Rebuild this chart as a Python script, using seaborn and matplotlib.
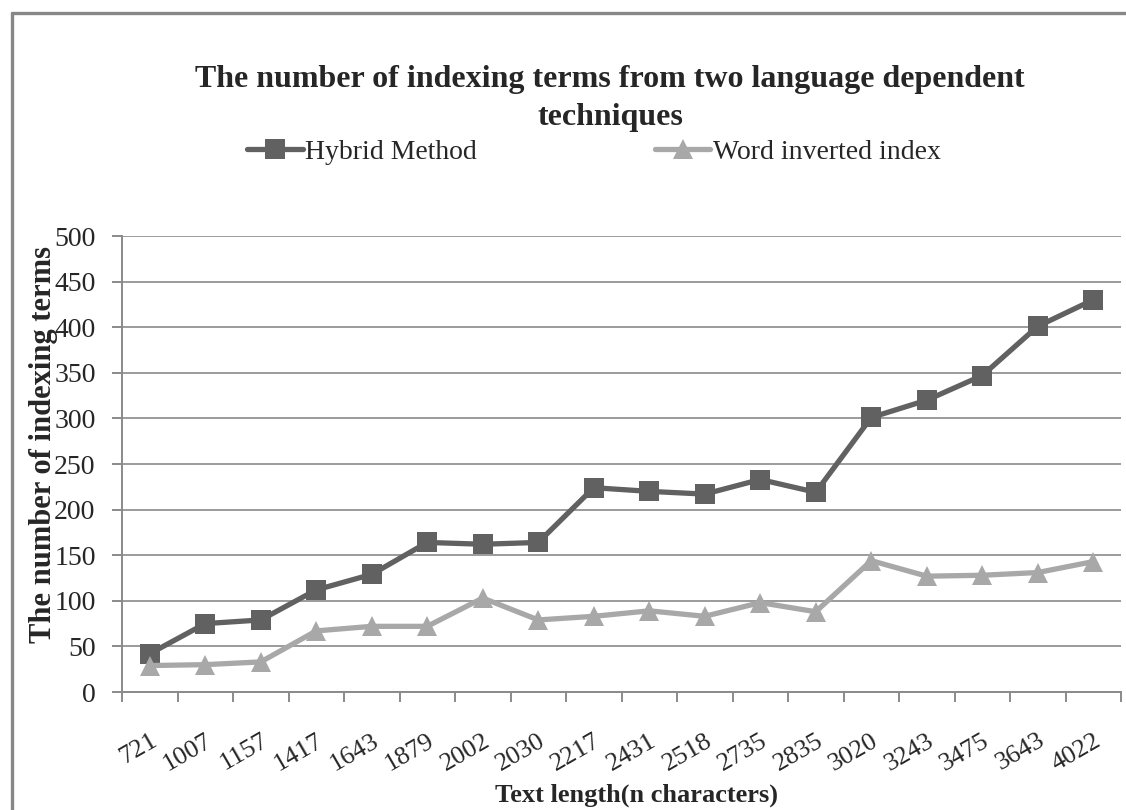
import matplotlib
matplotlib.use("Agg")
import matplotlib.pyplot as plt
from matplotlib.lines import Line2D
from matplotlib.ticker import FixedLocator, NullFormatter
import seaborn as sns
import pandas as pd

# Text lengths (n characters) used as categories
text_lengths = ["721", "1007", "1157", "1417", "1643", "1879", "2002", "2030", "2217",
                "2431", "2518", "2735", "2835", "3020", "3243", "3475", "3643", "4022"]
# Number of indexing terms per technique
hybrid_method = [42, 75, 79, 112, 129, 164, 162, 164, 224,
                 220, 217, 233, 219, 301, 320, 347, 401, 430]
word_inverted_index = [29, 30, 33, 67, 72, 72, 103, 79, 83,
                       89, 83, 98, 88, 144, 127, 128, 131, 143]
series_names = ["Hybrid Method", "Word inverted index"]
y_ticks = [0, 50, 100, 150, 200, 250, 300, 350, 400, 450, 500]

df = pd.DataFrame({
    "length": text_lengths * 2,
    "terms": hybrid_method + word_inverted_index,
    "method": [series_names[0]] * len(text_lengths) + [series_names[1]] * len(text_lengths),
})

sns.set_theme(style="white")
plt.rcParams["font.family"] = ["Liberation Serif", "DejaVu Serif"]

fig = plt.figure(figsize=(11.26, 8.10), dpi=100)
fig.patch.set_facecolor("white")
ax = fig.add_axes([122 / 1126, 1 - 692 / 810, (1121 - 122) / 1126, (692 - 236) / 810])

palette = {series_names[0]: "#616161", series_names[1]: "#a8a8a8"}
markers = {series_names[0]: "s", series_names[1]: "^"}
sns.lineplot(data=df, x="length", y="terms", hue="method", style="method",
             palette=palette, markers=markers, dashes=False, sort=False,
             linewidth=3.8, markersize=14, markeredgewidth=0, ax=ax, legend=False)

grid_color = "#8a8a8a"
ax.set_xlim(-0.5, len(text_lengths) - 0.5)
ax.set_ylim(0, 500)
ax.set_yticks(y_ticks)
ax.yaxis.grid(True, color=grid_color, linewidth=1.2)
ax.set_axisbelow(True)
for side in ["top", "right"]:
    ax.spines[side].set_visible(False)
for side in ["left", "bottom"]:
    ax.spines[side].set_color(grid_color)
    ax.spines[side].set_linewidth(1.4)

# category labels at centres, tick marks at category boundaries
ax.set_xticks(range(len(text_lengths)))
ax.set_xticklabels(text_lengths, rotation=30, ha="right", rotation_mode="anchor",
                   fontsize=19)
ax.tick_params(axis="x", which="major", length=0, pad=27)
ax.xaxis.set_minor_locator(FixedLocator([i - 0.5 for i in range(len(text_lengths) + 1)]))
ax.xaxis.set_minor_formatter(NullFormatter())
ax.tick_params(axis="x", which="minor", length=7, width=1.4, color=grid_color,
               direction="out", bottom=True)
ax.tick_params(axis="y", length=7, width=1.4, color=grid_color, direction="out",
               left=True, labelsize=20, pad=12)

ax.set_xlabel("Text length(n characters)", fontsize=19, fontweight="bold")
ax.set_ylabel("The number of indexing terms", fontsize=22, fontweight="bold")
ax.xaxis.set_label_coords(0.515, -0.2)
ax.yaxis.set_label_coords(-0.064, 0.543)

fig.text(610 / 1126, 1 - 80 / 810, "The number of indexing terms from two language dependent",
         ha="center", va="center", fontsize=23, fontweight="bold")
fig.text(610 / 1126, 1 - 117 / 810, "techniques",
         ha="center", va="center", fontsize=23, fontweight="bold")

handles = [Line2D([], [], color=palette[n], marker=markers[n], linewidth=3.8,
                  markersize=14, markeredgewidth=0) for n in series_names]
fig.legend(handles, series_names, loc="center", bbox_to_anchor=(594 / 1126, 1 - 152 / 810),
           ncol=2, frameon=False, fontsize=20, handlelength=2.0, handletextpad=0.1,
           columnspacing=6.4)

# outer chart frame
frame_color = "#878787"
fig.add_artist(Line2D([12 / 1126, 12 / 1126], [0, 1 - 13 / 810], transform=fig.transFigure,
                      color=frame_color, linewidth=2.4))
fig.add_artist(Line2D([12 / 1126, 1], [1 - 13 / 810, 1 - 13 / 810], transform=fig.transFigure,
                      color=frame_color, linewidth=2.4))

fig.savefig("out.png", dpi=100)
